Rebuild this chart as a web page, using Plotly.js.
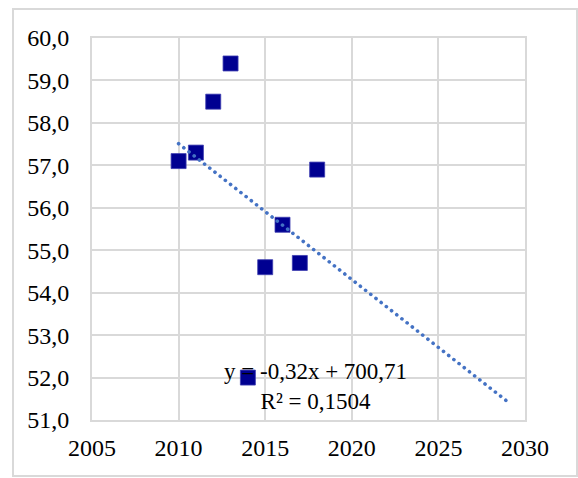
<!DOCTYPE html>
<html>
<head>
<meta charset="utf-8">
<script src="https://cdn.plot.ly/plotly-3.0.1.min.js"></script>
<style>
  html, body { margin: 0; padding: 0; background: #ffffff; }
  #wrap { position: relative; width: 578px; height: 478px; overflow: hidden; }
  #chart { position: absolute; left: 0; top: 0; width: 578px; height: 478px; }
  #frame {
    position: absolute; left: 12px; top: 8px;
    width: 562px; height: 465px;
    border: 2px solid #d9d9d9; pointer-events: none;
  }
  /* round dots for the dotted trend line */
  #chart .trend .js-line { stroke-linecap: round; }
</style>
</head>
<body>
<div id="wrap">
  <div id="chart"></div>
  <div id="frame"></div>
</div>
<script>
// Observed values per year
const years  = [2010, 2011, 2012, 2013, 2014, 2015, 2016, 2017, 2018];
const values = [57.1, 57.3, 58.5, 59.4, 52.0, 54.6, 55.6, 54.7, 56.9];

// Linear trend as stated in the label: y = slope * x + intercept
const trendSlope = -0.32;
const trendIntercept = 700.71;
const trendR2 = 0.1504;
const trendYears = [2010, 2029];

const xTicks = [2005, 2010, 2015, 2020, 2025, 2030];
const yTicks = [51, 52, 53, 54, 55, 56, 57, 58, 59, 60];

const comma = (v, d) => v.toFixed(d).replace('.', ',');
const trendValues = trendYears.map(x => trendSlope * x + trendIntercept);
const eqText = 'y = ' + comma(trendSlope, 2) + 'x + ' + comma(trendIntercept, 2) +
               '<br>R² = ' + comma(trendR2, 4);

const serif = 'Liberation Serif, Times New Roman, serif';

const data = [
  {
    x: years, y: values, type: 'scatter', mode: 'markers',
    marker: { symbol: 'square', size: 15, color: '#000091',
              line: { color: '#3c3cb0', width: 0.8 } },
    hoverinfo: 'skip', showlegend: false
  },
  {
    x: trendYears, y: trendValues, type: 'scatter', mode: 'lines',
    line: { color: '#4472c4', width: 3.6, dash: '0.1px,6.5px' },
    hoverinfo: 'skip', showlegend: false
  }
];

const axisCommon = {
  showgrid: true, gridcolor: '#d9d9d9', gridwidth: 2,
  showline: true, linecolor: '#d9d9d9', linewidth: 2, mirror: true,
  zeroline: false, ticks: '', fixedrange: true,
  tickfont: { family: serif, size: 24, color: '#000000' }
};

const layout = {
  width: 578, height: 478,
  margin: { l: 92, r: 53, t: 38, b: 58 },
  paper_bgcolor: '#ffffff', plot_bgcolor: '#ffffff',
  separators: ', ',
  font: { family: serif },
  xaxis: Object.assign({}, axisCommon, {
    range: [2005, 2030], tickmode: 'array', tickvals: xTicks,
    ticktext: xTicks.map(String), tickangle: 0, ticklabelstandoff: 5
  }),
  yaxis: Object.assign({}, axisCommon, {
    range: [51, 60], tickmode: 'array', tickvals: yTicks,
    ticktext: yTicks.map(v => comma(v, 1)), ticklabelstandoff: 16
  }),
  annotations: [{
    xref: 'paper', yref: 'paper', x: 0.517, y: 0.088,
    xanchor: 'center', yanchor: 'middle', align: 'center',
    text: eqText, showarrow: false,
    font: { family: serif, size: 23, color: '#000000' }
  }]
};

Plotly.newPlot('chart', data, layout, { displayModeBar: false, staticPlot: true })
  .then(gd => {
    // tag the trend trace so its dots get round caps
    const traces = gd.querySelectorAll('.scatterlayer .trace');
    if (traces[1]) traces[1].classList.add('trend');
  });
</script>
</body>
</html>
